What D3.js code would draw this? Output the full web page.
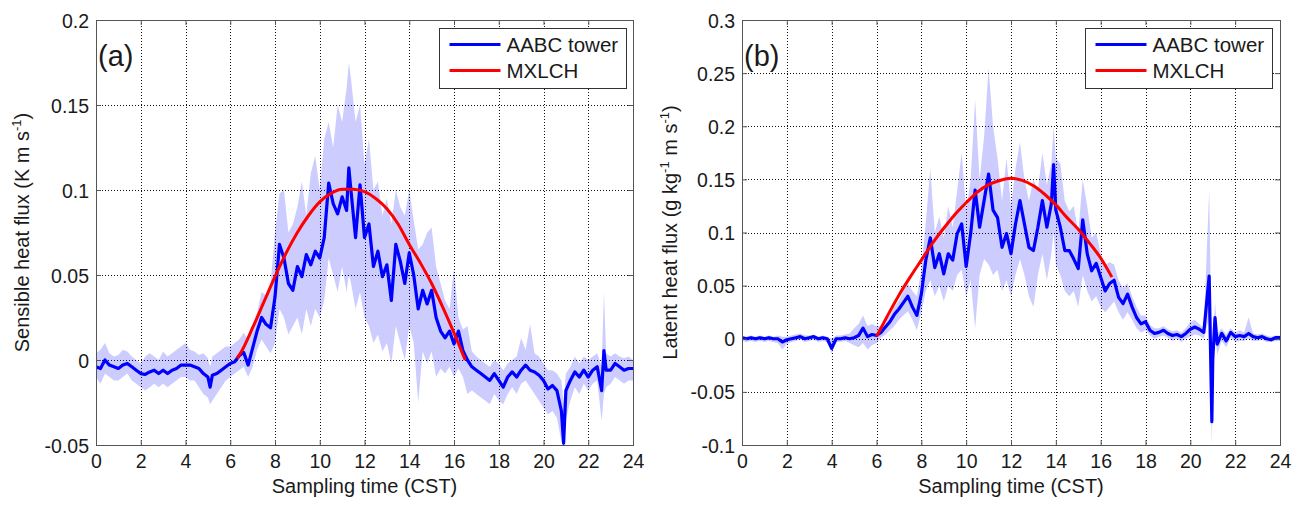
<!DOCTYPE html>
<html>
<head>
<meta charset="utf-8">
<script src="https://cdn.jsdelivr.net/npm/d3@7"></script>
<style>
  body { margin: 0; background: #fff; }
  svg text { font-family: "Liberation Sans", Arial, sans-serif; fill: #1a1a1a; }
</style>
</head>
<body>
<svg id="chart" width="1311" height="505"></svg>
<script>
// values (hours CST, flux)
const xTicks = [0, 2, 4, 6, 8, 10, 12, 14, 16, 18, 20, 22, 24];
const yTicksA = [-0.05, 0, 0.05, 0.1, 0.15, 0.2];
const yTicksB = [-0.1, -0.05, 0, 0.05, 0.1, 0.15, 0.2, 0.25, 0.3];
const seriesNames = ["AABC tower", "MXLCH"];

// (a) sensible heat flux
const hoursA = [0, 0.2, 0.4, 0.6, 0.8, 1, 1.2, 1.4, 1.6, 1.8, 2, 2.2, 2.4, 2.6, 2.8, 3, 3.2, 3.4, 3.6, 3.8,
  4, 4.2, 4.4, 4.6, 4.8, 5, 5.1, 5.2, 5.4, 5.6, 5.8, 6, 6.2, 6.4, 6.6, 6.8, 7, 7.2, 7.4, 7.6, 7.8,
  8, 8.2, 8.4, 8.6, 8.8, 9, 9.2, 9.4, 9.6, 9.8, 10, 10.2, 10.4, 10.6, 10.8, 11, 11.2, 11.3, 11.4, 11.6, 11.8,
  12, 12.2, 12.4, 12.6, 12.8, 13, 13.2, 13.4, 13.6, 13.8, 14, 14.2, 14.4, 14.6, 14.8, 15, 15.2, 15.4, 15.6, 15.8,
  16, 16.2, 16.4, 16.6, 16.8, 17, 17.2, 17.4, 17.6, 17.8, 18, 18.2, 18.4, 18.6, 18.8, 19, 19.2, 19.4, 19.6, 19.8,
  20, 20.2, 20.4, 20.6, 20.8, 20.9, 21, 21.2, 21.4, 21.6, 21.8, 22, 22.2, 22.4, 22.6, 22.7, 22.8, 23, 23.2, 23.4, 23.6, 23.8, 24];
const towerA = [-0.004, -0.005, 0, -0.003, -0.004, -0.005, -0.003, -0.002, -0.004, -0.006, -0.008, -0.0085, -0.007, -0.006, -0.008, -0.006, -0.008, -0.006, -0.005, -0.003,
  -0.003, -0.003, -0.004, -0.005, -0.008, -0.01, -0.016, -0.009, -0.008, -0.006, -0.004, -0.002, -0.001, 0.0025, 0.0045, -0.003, 0.007, 0.017, 0.025, 0.021, 0.019,
  0.037, 0.068, 0.06, 0.045, 0.041, 0.055, 0.049, 0.062, 0.056, 0.064, 0.06, 0.072, 0.104, 0.092, 0.086, 0.096, 0.088, 0.113, 0.099, 0.072, 0.103,
  0.072, 0.08, 0.055, 0.064, 0.049, 0.056, 0.035, 0.068, 0.058, 0.045, 0.063, 0.05, 0.03, 0.041, 0.033, 0.041, 0.025, 0.017, 0.013, 0.017,
  0.0094, 0.017, 0.0055, 0, -0.004, -0.006, -0.008, -0.01, -0.012, -0.008, -0.012, -0.016, -0.01, -0.007, -0.01, -0.006, -0.003, -0.006, -0.007, -0.009,
  -0.012, -0.017, -0.015, -0.018, -0.03, -0.049, -0.018, -0.012, -0.007, -0.01, -0.006, -0.01, -0.006, -0.004, -0.018, 0.0055, -0.006, -0.006, -0.002, -0.004, -0.006, -0.005, -0.005];
const lowA = [-0.01, -0.014, -0.008, -0.01, -0.012, -0.012, -0.01, -0.008, -0.012, -0.014, -0.016, -0.018, -0.016, -0.014, -0.016, -0.014, -0.016, -0.014, -0.012, -0.01,
  -0.01, -0.012, -0.012, -0.016, -0.02, -0.022, -0.026, -0.024, -0.02, -0.016, -0.012, -0.01, -0.008, -0.006, -0.004, -0.01, -0.004, 0.006, 0.012, 0.008, 0.004,
  0.01, 0.03, 0.025, 0.015, 0.02, 0.025, 0.015, 0.03, 0.02, 0.03, 0.025, 0.035, 0.06, 0.05, 0.04, 0.055, 0.04, 0.05, 0.045, 0.03, 0.04,
  0.025, 0.02, 0.01, 0.015, 0.005, 0.01, -0.002, 0.02, 0.01, 0, 0.02, 0.01, -0.025, 0.005, -0.002, 0.005, -0.01, -0.005, -0.008, -0.004,
  -0.01, -0.005, -0.01, -0.02, -0.018, -0.02, -0.022, -0.024, -0.026, -0.02, -0.024, -0.026, -0.02, -0.016, -0.02, -0.014, -0.012, -0.016, -0.02, -0.024,
  -0.028, -0.032, -0.03, -0.034, -0.048, -0.05, -0.035, -0.024, -0.016, -0.02, -0.014, -0.018, -0.014, -0.012, -0.036, -0.02, -0.016, -0.014, -0.01, -0.012, -0.014, -0.012, -0.012];
const highA = [0.004, 0.006, 0.01, 0.004, 0.002, 0.003, 0.006, 0.005, 0.002, 0, -0.002, 0.002, 0.004, 0.002, 0, 0.005, 0.002, 0.004, 0.006, 0.008,
  0.01, 0.006, 0.005, 0.003, 0.004, 0.001, -0.004, 0.002, 0.004, 0.006, 0.008, 0.008, 0.01, 0.012, 0.016, 0.012, 0.02, 0.028, 0.04, 0.038, 0.045,
  0.075, 0.098, 0.1, 0.075, 0.08, 0.09, 0.105, 0.085, 0.11, 0.12, 0.1, 0.13, 0.14, 0.125, 0.15, 0.14, 0.16, 0.175, 0.165, 0.14, 0.15,
  0.115, 0.13, 0.1, 0.105, 0.085, 0.095, 0.08, 0.1, 0.09, 0.085, 0.1, 0.082, 0.065, 0.068, 0.075, 0.078, 0.055, 0.045, 0.035, 0.03,
  0.054, 0.025, 0.018, 0.02, 0.005, 0.002, 0, -0.002, -0.004, 0, -0.002, -0.006, -0.002, 0, 0.002, 0.013, 0.006, 0.021, 0.004, 0.002,
  -0.002, -0.006, -0.006, -0.008, -0.012, -0.025, -0.008, -0.004, 0.002, -0.002, 0.002, 0, 0.002, 0.004, -0.004, 0.04, 0.004, 0.002, 0.004, 0.002, 0.001, 0.002, 0];
const mxlchHoursA = [6.3, 6.5, 7, 7.5, 8, 8.5, 9, 9.5, 10, 10.5, 11, 11.5, 12, 12.5, 13, 13.5, 14, 14.5, 15, 15.5, 16, 16.5];
const mxlchA = [0.001, 0.005, 0.019, 0.034, 0.049, 0.063, 0.075, 0.085, 0.093, 0.098, 0.1005, 0.1005, 0.099, 0.095, 0.089, 0.08, 0.068, 0.057, 0.045, 0.031, 0.016, 0];

// (b) latent heat flux
const hoursB = [0, 0.2, 0.4, 0.6, 0.8, 1, 1.2, 1.4, 1.6, 1.8, 2, 2.2, 2.4, 2.6, 2.8, 3, 3.2, 3.4, 3.6, 3.8,
  4, 4.2, 4.4, 4.6, 4.8, 5, 5.2, 5.4, 5.6, 5.8, 6, 6.2, 6.4, 6.6, 6.8, 7, 7.2, 7.4, 7.6, 7.8,
  8, 8.2, 8.4, 8.6, 8.8, 9, 9.2, 9.4, 9.6, 9.8, 10, 10.2, 10.4, 10.6, 10.8, 11, 11.2, 11.4, 11.6, 11.8,
  12, 12.2, 12.4, 12.6, 12.8, 13, 13.2, 13.4, 13.6, 13.8, 13.9, 14, 14.2, 14.4, 14.6, 14.8, 15, 15.2, 15.4, 15.6, 15.8,
  16, 16.2, 16.4, 16.6, 16.8, 17, 17.2, 17.4, 17.6, 17.8, 18, 18.2, 18.4, 18.6, 18.8, 19, 19.2, 19.4, 19.6, 19.8,
  20, 20.2, 20.4, 20.6, 20.84, 20.96, 21, 21.1, 21.2, 21.4, 21.6, 21.8, 22, 22.2, 22.4, 22.6, 22.8, 23, 23.2, 23.4, 23.6, 23.8, 24];
const towerB = [0.001, 0, 0.001, 0, 0.001, 0, 0.001, 0, 0, -0.003, -0.001, 0, 0.001, 0.002, 0, 0.001, 0.002, 0, 0.001, 0,
  -0.009, 0, 0, 0.001, 0, 0.001, 0.003, 0.01, 0.002, 0.004, 0.003, 0.006, 0.011, 0.016, 0.023, 0.028, 0.034, 0.04, 0.03, 0.022,
  0.042, 0.074, 0.095, 0.067, 0.08, 0.061, 0.08, 0.074, 0.099, 0.108, 0.068, 0.099, 0.14, 0.105, 0.13, 0.155, 0.121, 0.114, 0.086, 0.099,
  0.08, 0.108, 0.13, 0.108, 0.086, 0.083, 0.105, 0.13, 0.105, 0.127, 0.164, 0.121, 0.105, 0.083, 0.083, 0.075, 0.066, 0.112, 0.08, 0.064, 0.071,
  0.058, 0.045, 0.052, 0.055, 0.039, 0.033, 0.042, 0.03, 0.02, 0.014, 0.016, 0.008, 0.005, 0.006, 0.008, 0.005, 0.003, 0.004, 0.002, 0.005,
  0.009, 0.011, 0.009, 0.006, 0.059, -0.078, -0.02, 0.02, -0.005, 0.005, -0.002, 0.006, 0.002, 0.003, 0.002, 0.005, 0.002, 0.001, 0.002, 0, -0.001, 0.001, 0.001];
const lowB = [-0.002, -0.003, -0.002, -0.003, -0.002, -0.003, -0.002, -0.003, -0.004, -0.01, -0.005, -0.003, -0.002, -0.001, -0.003, -0.002, -0.001, -0.003, -0.002, -0.003,
  -0.014, -0.003, -0.003, -0.002, -0.004, -0.006, -0.008, -0.004, -0.01, -0.006, -0.004, 0.001, 0.004, 0.008, 0.012, 0.018, 0.022, 0.026, 0.018, 0.008,
  0.025, 0.045, 0.055, 0.04, 0.05, 0.035, 0.05, 0.045, 0.06, 0.065, 0.04, 0.055, 0.01, 0.06, 0.075, 0.07, 0.06, 0.065, 0.045, 0.055,
  0.04, 0.06, 0.075, 0.06, 0.04, 0.03, 0.06, 0.08, 0.055, 0.08, 0.1, 0.07, 0.06, 0.045, 0.04, 0.045, 0.03, 0.06, 0.045, 0.035, 0.04,
  0.03, 0.025, 0.03, 0.035, 0.025, 0.018, 0.025, 0.018, 0.01, 0.006, 0.008, 0.003, 0, 0.002, 0.003, 0.001, -0.002, 0, -0.003, 0,
  0.002, 0.004, 0.003, 0, 0.02, -0.1, -0.04, 0.005, -0.015, -0.002, -0.008, 0.001, -0.003, -0.002, -0.002, 0, -0.002, -0.002, -0.001, -0.003, -0.003, -0.002, -0.002];
const highB = [0.003, 0.002, 0.003, 0.002, 0.003, 0.002, 0.003, 0.002, 0.003, 0.002, 0.002, 0.003, 0.004, 0.005, 0.003, 0.003, 0.004, 0.002, 0.003, 0.002,
  0, 0.003, 0.003, 0.004, 0.005, 0.01, 0.014, 0.022, 0.012, 0.014, 0.012, 0.012, 0.018, 0.022, 0.03, 0.036, 0.045, 0.052, 0.045, 0.04,
  0.065, 0.11, 0.16, 0.1, 0.115, 0.095, 0.125, 0.105, 0.14, 0.175, 0.12, 0.15, 0.225, 0.15, 0.19, 0.255, 0.2, 0.17, 0.13, 0.17,
  0.125, 0.16, 0.185, 0.15, 0.13, 0.15, 0.14, 0.175, 0.145, 0.165, 0.2, 0.17, 0.165, 0.13, 0.12, 0.125, 0.1, 0.15, 0.125, 0.095, 0.1,
  0.08, 0.07, 0.072, 0.07, 0.055, 0.048, 0.052, 0.04, 0.03, 0.022, 0.022, 0.013, 0.01, 0.01, 0.012, 0.009, 0.007, 0.008, 0.006, 0.01,
  0.016, 0.018, 0.014, 0.01, 0.14, -0.02, -0.005, 0.035, 0.005, 0.01, 0.004, 0.01, 0.006, 0.008, 0.006, 0.02, 0.005, 0.004, 0.005, 0.003, 0.002, 0.003, 0.003];
const mxlchHoursB = [6, 6.5, 7, 7.5, 8, 8.5, 9, 9.5, 10, 10.5, 11, 11.5, 12, 12.5, 13, 13.5, 14, 14.5, 15, 15.5, 16, 16.5];
const mxlchB = [0.002, 0.022, 0.041, 0.058, 0.074, 0.09, 0.104, 0.117, 0.128, 0.138, 0.145, 0.149, 0.151, 0.149, 0.144, 0.136, 0.126, 0.114, 0.103, 0.09, 0.076, 0.058];

const svg = d3.select("#chart");

const panels = [
  { tag: "(a)", left: 96, right: 633, top: 20, bottom: 445, yDomain: [-0.05, 0.2], yTicks: yTicksA,
    hours: hoursA, tower: towerA, low: lowA, high: highA, mHours: mxlchHoursA, mxlch: mxlchA,
    yLabel: [["Sensible heat flux (K m s", 0], ["-1", 1], [")", 0]], yLabelX: 22, legendLeft: 439 },
  { tag: "(b)", left: 742, right: 1280, top: 20, bottom: 445, yDomain: [-0.1, 0.3], yTicks: yTicksB,
    hours: hoursB, tower: towerB, low: lowB, high: highB, mHours: mxlchHoursB, mxlch: mxlchB,
    yLabel: [["Latent heat flux (g kg", 0], ["-1", 1], [" m s", 0], ["-1", 1], [")", 0]], yLabelX: 670, legendLeft: 1085 }
];

panels.forEach((p, i) => drawPanel(p, i));

function drawPanel(p, i) {
  const x = d3.scaleLinear().domain([0, 24]).range([p.left, p.right]);
  const y = d3.scaleLinear().domain(p.yDomain).range([p.bottom, p.top]);
  const g = svg.append("g");
  const px = v => Math.round(v) + 0.5; // crisp 1px lines

  const clipId = "clip" + i;
  svg.append("clipPath").attr("id", clipId)
    .append("rect")
    .attr("x", p.left).attr("y", p.top)
    .attr("width", p.right - p.left).attr("height", p.bottom - p.top);

  // dotted grid
  const grid = g.append("g")
    .attr("stroke", "#111")
    .attr("stroke-width", 1)
    .attr("shape-rendering", "crispEdges")
    .attr("stroke-dasharray", "1,2");
  grid.selectAll(".vx")
    .data(xTicks.slice(1, -1))
    .join("line")
    .attr("x1", d => px(x(d))).attr("x2", d => px(x(d)))
    .attr("y1", p.top).attr("y2", p.bottom);
  grid.selectAll(".hy")
    .data(p.yTicks.slice(1, -1))
    .join("line")
    .attr("x1", p.left).attr("x2", p.right)
    .attr("y1", d => px(y(d))).attr("y2", d => px(y(d)));

  const rows = p.hours.map((h, k) => ({ h, v: p.tower[k], lo: p.low[k], hi: p.high[k] }));

  const plot = g.append("g").attr("clip-path", `url(#${clipId})`);

  plot.append("path")
    .datum(rows)
    .attr("fill", "#0000ff")
    .attr("fill-opacity", 0.2)
    .attr("d", d3.area().x(d => x(d.h)).y0(d => y(d.lo)).y1(d => y(d.hi)));

  plot.append("path")
    .datum(rows)
    .attr("fill", "none")
    .attr("stroke", "#0000ff")
    .attr("stroke-width", 3.2)
    .attr("stroke-linejoin", "round")
    .attr("d", d3.line().x(d => x(d.h)).y(d => y(d.v)));

  plot.append("path")
    .datum(p.mHours.map((h, k) => [h, p.mxlch[k]]))
    .attr("fill", "none")
    .attr("stroke", "#ff0000")
    .attr("stroke-width", 3)
    .attr("d", d3.line().curve(d3.curveMonotoneX).x(d => x(d[0])).y(d => y(d[1])));

  // box
  g.append("rect")
    .attr("x", p.left + 0.5).attr("y", p.top + 0.5)
    .attr("width", p.right - p.left).attr("height", p.bottom - p.top)
    .attr("fill", "none").attr("stroke", "#555").attr("stroke-width", 1);

  // axes, ticks inward like matlab
  const fmt = d => String(d);
  const xAxis = g.append("g")
    .attr("transform", `translate(0,${p.bottom})`)
    .call(d3.axisBottom(x).tickValues(xTicks).tickFormat(fmt).tickSizeInner(-5).tickSizeOuter(0).tickPadding(9));
  const xTop = g.append("g")
    .attr("transform", `translate(0,${p.top})`)
    .call(d3.axisTop(x).tickValues(xTicks).tickFormat("").tickSizeInner(-5).tickSizeOuter(0));
  const yAxis = g.append("g")
    .attr("transform", `translate(${p.left},0)`)
    .call(d3.axisLeft(y).tickValues(p.yTicks).tickFormat(fmt).tickSizeInner(-5).tickSizeOuter(0).tickPadding(7));
  const yRight = g.append("g")
    .attr("transform", `translate(${p.right},0)`)
    .call(d3.axisRight(y).tickValues(p.yTicks).tickFormat("").tickSizeInner(-5).tickSizeOuter(0));

  [xAxis, xTop, yAxis, yRight].forEach(a => {
    a.select(".domain").remove();
    a.selectAll(".tick line").attr("stroke", "#555");
    a.selectAll(".tick text")
      .attr("fill", "#1a1a1a")
      .style("font-size", "19.5px")
      .style("font-family", "'Liberation Sans', Arial, sans-serif");
  });
  yAxis.selectAll(".tick text").attr("dy", "0.36em");

  // x label
  g.append("text")
    .attr("x", (p.left + p.right) / 2)
    .attr("y", 493)
    .attr("text-anchor", "middle")
    .style("font-size", "20px")
    .text("Sampling time (CST)");

  // y label with superscripts
  const yl = g.append("text")
    .attr("transform", `translate(${p.yLabelX + 7},${(p.top + p.bottom) / 2}) rotate(-90)`)
    .attr("text-anchor", "middle")
    .style("font-size", "20px");
  let raised = false;
  p.yLabel.forEach(([txt, sup]) => {
    const t = yl.append("tspan").text(txt);
    if (sup && !raised) { t.attr("dy", -8).style("font-size", "13px"); raised = true; }
    else if (!sup && raised) { t.attr("dy", 8); raised = false; }
  });

  // panel tag
  g.append("text")
    .attr("x", p.left + 2)
    .attr("y", 66)
    .style("font-size", "29px")
    .text(p.tag);

  // legend
  const lg = g.append("g").attr("transform", `translate(${p.legendLeft + 0.5},28.5)`);
  lg.append("rect")
    .attr("width", 187).attr("height", 60)
    .attr("fill", "#fff").attr("stroke", "#333").attr("stroke-width", 1);
  const colors = ["#0000ff", "#ff0000"];
  seriesNames.forEach((name, k) => {
    const yy = 16 + k * 26;
    lg.append("line")
      .attr("x1", 10).attr("x2", 61)
      .attr("y1", yy).attr("y2", yy)
      .attr("stroke", colors[k]).attr("stroke-width", 3);
    lg.append("text")
      .attr("x", 67).attr("y", yy + 7.5)
      .style("font-size", "20.5px")
      .text(name);
  });
}
</script>
</body>
</html>
